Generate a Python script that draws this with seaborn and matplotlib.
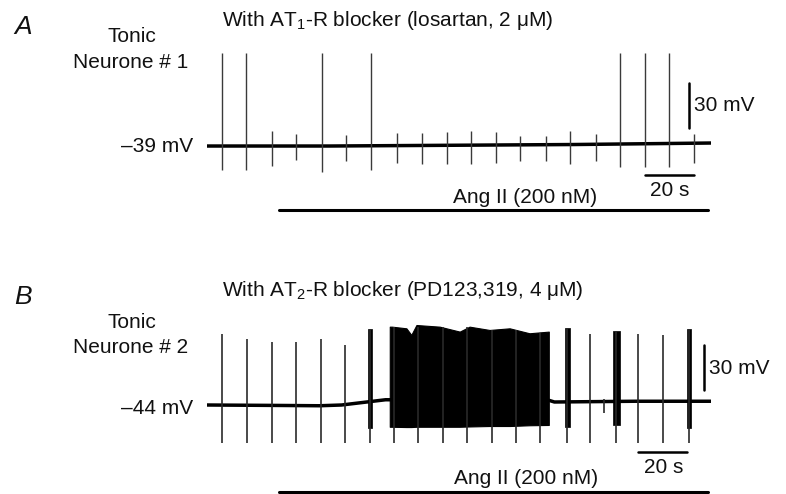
import matplotlib
matplotlib.use('Agg')
import pandas as pd
import matplotlib.pyplot as plt
import seaborn as sns

# ---- panel A: tonic neurone 1 with AT1-R blocker (time in s, voltage in mV) ----
a_base_t = [0, 50, 100, 150, 206]
a_base_v = [-39, -39, -38.5, -38, -37]
a_spike_t = [6, 16, 26.5, 36.5, 47, 57, 67, 77.5, 88, 98, 108, 118, 128, 138.5,
             148.5, 159, 169, 179, 189, 199]
a_spike_top = [23, 23, -29, -31, 23, -31.5, 23, -30, -30, -29.5, -29, -29.5, -32, -32,
               -29, -31, 23, 23, 23, -31]
a_spike_bot = [-55, -55, -52, -48, -56, -49, -55, -50, -51, -51, -51, -50.5, -49, -49,
               -51, -49, -53, -53, -53, -50]

# ---- panel B: tonic neurone 2 with AT2-R blocker ----
b_base_t = [0, 30, 46, 55, 73, 140, 142, 175, 206]
b_base_v = [-44, -44.3, -44.5, -44, -40.5, -41, -42, -41.5, -41.5]
b_spike_t = [6.1, 16.3, 26.5, 36.3, 46.5, 56.3, 66.5, 76.3, 86.1, 96.3, 106.1, 116.3,
             126.1, 136.3, 147.3, 156.7, 162.4, 167.3, 176.3, 186.5, 197.1]
b_spike_top = [3.3, 0, -2, -2, 0, -4, 6.7, 8, 8, 8, 8, 6, 6, 4, 7.3, 3.3, -40, 5.3,
               3.3, 2.7, 6.7]
b_spike_bot = [-69, -69, -69, -69, -69, -69, -69, -69, -69, -69, -69, -69, -69, -69,
               -69, -69, -49, -69, -69, -69, -69]
# short high-frequency bursts
b_burst_t0 = [65.7, 146.2, 166.0, 196.3]
b_burst_t1 = [67.3, 148.5, 168.9, 198.0]
b_burst_top = [6.7, 7.3, 5.3, 6.7]
b_burst_bot = [-59.3, -58.7, -57.3, -59.3]
# long Ang II-evoked discharge (envelope)
b_block_t = [74.7, 75.6, 81.5, 83.5, 85.6, 95.1, 103.3, 107.3, 115.5, 123.7, 131.8, 139.7]
b_block_top = [8.2, 8.2, 7.1, 2.7, 9.3, 8.2, 4.9, 8.2, 6, 7.1, 3.8, 4.9]
b_block_bot = [-58.5, -58.5, -58.7, -58.7, -58.5, -58.5, -58.5, -58.3, -58, -58, -57.5, -57.3]

ang_on, ang_off = 29.4, 204.8

sns.set_style('white')
plt.rcParams['font.family'] = ['Liberation Sans', 'DejaVu Sans']
plt.rcParams['mathtext.default'] = 'regular'

W, H = 786, 494
fig = plt.figure(figsize=(W / 100, H / 100), dpi=100)


def px_axes(top, bottom):
    return fig.add_axes([207 / W, 1 - bottom / H, 504 / W, (bottom - top) / H])


def ftxt(x, y, s, **kw):
    kw.setdefault('fontsize', 15)
    kw.setdefault('va', 'center')
    kw.setdefault('color', '#111111')
    fig.text(x / W, 1 - y / H, s, **kw)


axA = px_axes(40, 215)
axB = px_axes(310, 494)

dfA = pd.DataFrame({'t': a_base_t, 'v': a_base_v})
sns.lineplot(data=dfA, x='t', y='v', ax=axA, color='black', lw=2.5)
axA.vlines(a_spike_t, a_spike_bot, a_spike_top, color='#3a3a3a', lw=1.0)
axA.set_xlim(0, 206)
axA.set_ylim(-85, 31.7)

dfB = pd.DataFrame({'t': b_base_t, 'v': b_base_v})
sns.lineplot(data=dfB, x='t', y='v', ax=axB, color='black', lw=2.5)
axB.vlines(b_spike_t, b_spike_bot, b_spike_top, color='#2a2a2a', lw=1.2)
for t0, t1, top, bot in zip(b_burst_t0, b_burst_t1, b_burst_top, b_burst_bot):
    axB.fill_between([t0, t1], [bot, bot], [top, top], color='black', lw=0.5)
axB.fill_between(b_block_t, b_block_bot, b_block_top, color='black', lw=0.8)
axB.set_xlim(0, 206)
axB.set_ylim(-103.3, 19.3)

# scale bars and drug application bars
axA.plot([179.2, 199.2], [-58.3, -58.3], color='black', lw=1.8, clip_on=False)
axA.plot([197, 197], [-27, 3], color='black', lw=1.8, clip_on=False)
axA.plot([ang_on, ang_off], [-81.7, -81.7], color='black', lw=2.2, clip_on=False)
axB.plot([176.2, 196.2], [-75.3, -75.3], color='black', lw=1.8, clip_on=False)
axB.plot([203.1, 203.1], [-34, -4], color='black', lw=1.8, clip_on=False)
axB.plot([ang_on, ang_off], [-102, -102], color='black', lw=2.2, clip_on=False)

for ax in (axA, axB):
    ax.set_axis_off()

# labels
ftxt(14, 27, 'A', fontsize=19, style='italic')
ftxt(222, 21, 'With AT$_1$-R blocker (losartan, 2 \u03bcM)')
ftxt(132, 36, 'Tonic', ha='center')
ftxt(131, 63, 'Neurone # 1', ha='center')
ftxt(193, 146, '\u201339 mV', ha='right')
ftxt(694, 105, '30 mV')
ftxt(670, 190, '20 s', ha='center')
ftxt(525, 197, 'Ang II (200 nM)', ha='center')

ftxt(14, 297, 'B', fontsize=19, style='italic')
ftxt(222, 291, 'With AT$_2$-R blocker (PD123,319, 4 \u03bcM)')
ftxt(132, 322, 'Tonic', ha='center')
ftxt(131, 347, 'Neurone # 2', ha='center')
ftxt(193, 408, '\u201344 mV', ha='right')
ftxt(709, 368, '30 mV')
ftxt(664, 467, '20 s', ha='center')
ftxt(526, 478, 'Ang II (200 nM)', ha='center')

fig.savefig('out.png', dpi=100)
